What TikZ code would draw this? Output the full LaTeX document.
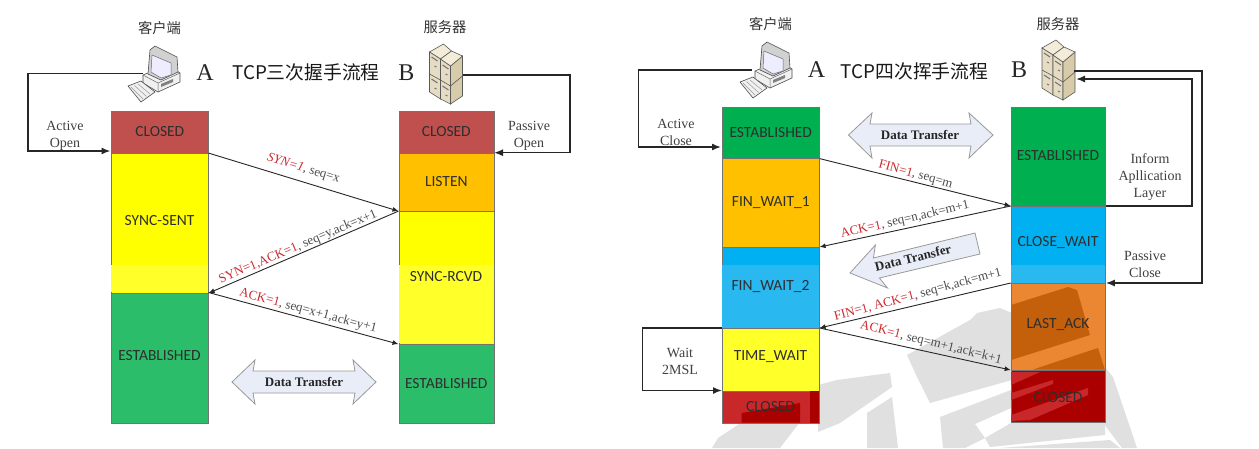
\documentclass[tikz,border=0pt]{standalone}
\usepackage{fontspec}
\setmainfont{Liberation Serif}
\newfontfamily\cjk{Noto Sans CJK SC}
\newfontfamily\cali{Carlito}
\usetikzlibrary{arrows.meta}
\definecolor{cRed}{HTML}{BF504D}
\definecolor{cYel}{HTML}{FFFF00}
\definecolor{cYelL}{HTML}{FFFF2A}
\definecolor{cOrg}{HTML}{FFC000}
\definecolor{cGrn}{HTML}{2CBD6B}
\definecolor{cGrnD}{HTML}{00AF50}
\definecolor{cBlu}{HTML}{00B0F0}
\definecolor{cBluL}{HTML}{29B8F0}
\definecolor{cLast}{HTML}{EB8633}
\definecolor{cLastD}{HTML}{C4600C}
\definecolor{cDark}{HTML}{AA0000}
\definecolor{cRedL}{HTML}{C9282A}
\definecolor{cArrow}{HTML}{E8EDF7}
\definecolor{cMsg}{HTML}{CC2A2E}
\definecolor{cWm}{HTML}{E0E0E0}
\definecolor{cSrvA}{HTML}{F3ECD9}
\definecolor{cSrvB}{HTML}{E6DCC3}
\definecolor{cSrvC}{HTML}{D8CBA9}
\tikzset{
 x=1pt,y=-1pt,
 st/.style={draw=black!55,line width=.6pt,anchor=north west,inner sep=0pt,minimum width=#1},
 st/.default=97pt,
 lbl/.style={font=\cali\fontsize{15.5}{16}\selectfont,text=black!82,inner sep=0pt},
 loopline/.style={line width=1.5pt,black!85,-{Latex[length=9pt,width=7pt]}},
 msg/.style={line width=.9pt,black!85,-{Latex[length=6pt,width=5pt]}},
 notetxt/.style={font=\fontsize{14}{17}\selectfont,align=center,text=black!75,inner sep=0pt},
 mtxt/.style={font=\fontsize{13}{14}\selectfont,text=black!70,inner sep=0pt},
 captxt/.style={font=\cjk\fontsize{14.3}{16}\selectfont,text=black!80,inner sep=0pt},
 ttl/.style={font=\cjk\fontsize{18.8}{20}\selectfont,text=black!90,inner sep=0pt},
 bigl/.style={font=\fontsize{24}{26}\selectfont,text=black!85,inner sep=0pt},
 fat/.style={draw=black!40,fill=cArrow,line width=.8pt},
 ftxt/.style={font=\bfseries\fontsize{13}{14}\selectfont,text=black!85,inner sep=0pt},
 pcb/.style={draw=black!70,line width=.6pt,fill=black!10},
 srv/.style={draw=black!65,line width=.6pt,fill=#1},
}
% computer icon; origin = junction of keyboard and tower
\newcommand{\pcicon}[2]{%
 \begin{scope}[shift={(#1,#2)}]
  \filldraw[pcb,fill=black!6] (-10,6) -- (14,-4) -- (27,4) -- (27,13) -- (5,23) -- (-10,14) -- cycle;
  \draw[black!60,line width=.5pt] (-10,6) -- (5,14) -- (27,4) (5,14) -- (5,23);
  \fill[black!50] (8,15) -- (20,10) -- (20,13) -- (8,18) -- cycle;
  \filldraw[pcb,fill=black!18] (-3,-19) -- (2,-23) -- (24,-12) -- (25,3) -- (8,11) -- (-5,5) -- cycle;
  \filldraw[draw=black!60,line width=.5pt,fill=blue!7] (-1,-14) -- (18,-6) -- (18,6) -- (8,9) -- (-2,3) -- cycle;
  \filldraw[pcb,fill=black!6] (-25,17) -- (-12,12) -- (2,23) -- (-12,33) -- cycle;
  \foreach \k in {0,1,2}{\draw[black!40,line width=.5pt] (-22+3.5*\k,18-1.5*\k) -- (-10+3.5*\k,30-2.5*\k);}
 \end{scope}}
% server icon; origin = centre
\newcommand{\srvicon}[2]{%
 \begin{scope}[shift={(#1,#2)}]
  \filldraw[srv=cSrvA] (-16,-22) -- (-2,-30) -- (6,-23) -- (-5,-15) -- cycle;
  \filldraw[srv=cSrvB] (-16,-22) -- (-5,-15) -- (-5,25) -- (-16,18) -- cycle;
  \filldraw[srv=cSrvB] (-5,-15) -- (5,-8) -- (5,30) -- (-5,25) -- cycle;
  \filldraw[srv=cSrvC] (5,-8) -- (17,-18) -- (17,22) -- (5,30) -- cycle;
  \filldraw[srv=cSrvA] (-5,-15) -- (6,-23) -- (17,-18) -- (5,-8) -- cycle;
  \draw[black!65,line width=.6pt] (-16,0) -- (-5,6) -- (5,12) -- (17,2);
  \foreach \a/\b in {-14/-17,-14/5,-3/-9,-3/12}{\draw[black!55,line width=1pt] (\a,\b) -- (\a+6,\b+4) (\a+3,\b+9) -- (\a+5,\b+10);}
 \end{scope}}
\begin{document}
\begin{tikzpicture}
\useasboundingbox (0,0) rectangle (1259,448);
\fill[white] (0,0) rectangle (1259,448);
% watermark on paper
\fill[cWm] (907,355) -- (970,320) -- (977,313) -- (1000,308) -- (1012,313) -- (1012,380) -- (930,403) -- (917,377) -- cycle;
\fill[cWm] (940,417) -- (1011,390) -- (1011,408) -- (975,424) -- (985,438) -- (965,448) -- (943,448) -- cycle;
\fill[cWm] (985,438) -- (1011,423) -- (1105,423) -- (1105,435) -- (990,447) -- cycle;
\fill[cWm] (1000,448) -- (1110,440) -- (1120,448) -- cycle;
\fill[cWm] (1104,366) -- (1113,377) -- (1137,448) -- (1122,448) -- (1104,424) -- cycle;
\fill[cWm] (712,448) -- (718,438) -- (742,422) -- (800,422) -- (780,448) -- cycle;
\fill[cWm] (818,385) -- (837,380) -- (890,373) -- (892,387) -- (840,423) -- (818,432) -- cycle;
\fill[cWm] (867,413) -- (892,397) -- (898,448) -- (867,448) -- cycle;

% LEFT
\node[st,minimum height=42pt,fill=cRed] (a1) at (111,110.5) {};
\node[st,minimum height=140pt,fill=cYel] (a2) at (111,152.5) {};
\node[st,minimum height=130pt,fill=cGrn] (a3) at (111,292.5) {};
\fill[cYelL] (111.4,265) rectangle (207.6,292);
\node[st=95pt,minimum height=42pt,fill=cRed] (b1) at (398.5,110.5) {};
\node[st=95pt,minimum height=58pt,fill=cOrg] (b2) at (398.5,152.5) {};
\node[st=95pt,minimum height=133pt,fill=cYel] (b3) at (398.5,210.5) {};
\node[st=95pt,minimum height=79pt,fill=cGrn] (b4) at (398.5,343.5) {};
\fill[cYelL] (398.9,265) rectangle (493.1,343);
\node[lbl] (a1l) at (a1) {CLOSED};
\node[lbl] (a2l) at (159.5,221) {SYNC-SENT};
\node[lbl] (a3l) at (159.5,356) {ESTABLISHED};
\node[lbl] (b1l) at (b1) {CLOSED};
\node[lbl] (b2l) at (b2) {LISTEN};
\node[lbl] (b3l) at (446,277) {SYNC-RCVD};
\node[lbl] (b4l) at (b4) {ESTABLISHED};
\node[captxt] (ca) at (159.5,28) {客户端};
\node[captxt] (sa) at (445,27) {服务器};
\node[bigl] (la) at (205,73) {A};
\node[bigl] (lb) at (406.5,73) {B};
\node[ttl] (t1) at (306,72) {TCP三次握手流程};
\coordinate (pc1) at (143,73.5);
\coordinate (sv1) at (460,75);
\coordinate (a1in) at (110.5,151);
\coordinate (b1in) at (494,152.7);
\node[notetxt] (n1) at (65,135.5) {Active\\Open};
\node[notetxt] (n2) at (529,135.5) {Passive\\Open};
\draw[loopline] (pc1) -- (28,73.5) -- (28,151) -- (a1in);
\draw[loopline] (sv1) -- (570,75) -- (570,152.7) -- (b1in);
\pcicon{153}{69}
\srvicon{445.5}{74}
\draw[msg] (a1.south east) -- (b2.south west);
\draw[msg] (b2.south west) -- (a2.south east);
\draw[msg] (a3.north east) -- (b3.south west);
\node[mtxt,rotate=-17] (m1) at (303.5,169) {\textcolor{cMsg}{\textit{SYN=1}}, seq=x};
\node[mtxt,rotate=23] (m2) at (298,247) {\textcolor{cMsg}{SYN=1,ACK=1}, seq=y,ack=x+1};
\node[mtxt,rotate=-15] (m3) at (308,311) {\textcolor{cMsg}{ACK=1}, seq=x+1,ack=y+1};
\draw[fat] (232,382) -- (255,360) -- (253,371) -- (355,371) -- (353,360) -- (376,382) -- (353,404) -- (355,393) -- (253,393) -- (255,404) -- cycle;
\node[ftxt] (f1) at (304,382) {Data Transfer};

% RIGHT
\node[st,minimum height=51pt,fill=cGrnD] (c1) at (722,107) {};
\node[st,minimum height=89pt,fill=cOrg] (c2) at (722,158) {};
\node[st,minimum height=81pt,fill=cBlu] (c3) at (722,247) {};
\node[st,minimum height=63pt,fill=cYelL] (c4) at (722,328) {};
\node[st,minimum height=32.5pt,fill=cRedL] (c5) at (722,390.5) {};
\fill[cBluL] (722.4,265) rectangle (818.6,327.6);
\node[st=94.5pt,minimum height=99pt,fill=cGrnD] (d1) at (1010.7,107) {};
\node[st=94.5pt,minimum height=77pt,fill=cBlu] (d2) at (1010.7,206) {};
\node[st=94.5pt,minimum height=87pt,fill=cLast] (d3) at (1010.7,283) {};
\node[st=94.5pt,minimum height=52pt,fill=cDark] (d4) at (1010.7,370) {};
\fill[cBluL] (1011.1,265) rectangle (1104.8,282.6);
% watermark on boxes
\fill[cLastD] (1011.1,305) -- (1068,287) -- (1077,290) -- (1090,335) -- (1011.1,360) -- cycle;
\fill[cLastD] (1033,369.5) -- (1098,348) -- (1104.8,369.5) -- cycle;
\fill[cRedL] (1011.1,372) -- (1040,372) -- (1011.1,385) -- cycle;
\fill[cRedL] (1011.1,393) -- (1053,380) -- (1053,384) -- (1011.1,400) -- cycle;
\fill[cRedL] (1011.1,415) -- (1088,388) -- (1088,395) -- (1030,420) -- (1011.1,421) -- cycle;
\fill[cDark] (741.7,422.6) -- (741.7,413) -- (800,403) -- (800,422.6) -- cycle;
\fill[cDark] (810,391) -- (818.6,391) -- (818.6,422.6) -- (810,422.6) -- cycle;
\node[lbl] (c1l) at (c1) {ESTABLISHED};
\node[lbl] (c2l) at (c2) {FIN\_WAIT\_1};
\node[lbl] (c3l) at (770.5,287) {FIN\_WAIT\_2};
\node[lbl] (c4l) at (770.5,357) {TIME\_WAIT};
\node[lbl] (c5l) at (770.5,407) {CLOSED};
\node[lbl] (d1l) at (1058,156) {ESTABLISHED};
\node[lbl] (d2l) at (1058,243) {CLOSE\_WAIT};
\node[lbl] (d3l) at (1058,325) {LAST\_ACK};
\node[lbl] (d4l) at (1058,398) {CLOSED};
\node[captxt] (cb) at (770.5,24) {客户端};
\node[captxt] (sb) at (1058,24) {服务器};
\node[bigl] (lc) at (816.5,70) {A};
\node[bigl] (ld) at (1019,70) {B};
\node[ttl] (t2) at (914.5,71) {TCP四次挥手流程};
\coordinate (pc2) at (752,70);
\coordinate (sv2) at (1074,71);
\coordinate (sv3) at (1076,79);
\coordinate (c1in) at (721,147);
\node[notetxt] (n3) at (676,132) {Active\\Close};
\node[notetxt] (n4) at (1145,264.5) {Passive\\Close};
\node[notetxt] (n5) at (1150,177) {Inform\\Apllication\\Layer};
\node[notetxt] (n6) at (680,361.5) {Wait\\2MSL};
\draw[loopline] (pc2) -- (638.5,70) -- (638.5,147) -- (c1in);
\pcicon{765}{65}
\srvicon{1058}{70}
\draw[loopline] (d2.north east) -- (1192,206) -- (1192,79) -- (sv3);
\draw[loopline] (sv2) -- (1202,71) -- (1202,283) -- (d3.north east);
\draw[loopline] (c4.north west) -- (642.5,328) -- (642.5,390.5) -- (c5.north west);
\draw[msg] (c1.south east) -- (d2.north west);
\draw[msg] (d2.north west) -- (c3.north east);
\draw[msg] (d3.north west) -- (c4.north east);
\draw[msg] (c4.north east) -- (d4.north west);
\node[mtxt,rotate=-15] (m4) at (915.5,175) {\textcolor{cMsg}{FIN=1}, seq=m};
\node[mtxt,rotate=13] (m5) at (905,220) {\textcolor{cMsg}{ACK=1}, seq=n,ack=m+1};
\node[mtxt,rotate=15] (m6) at (918,295) {\textcolor{cMsg}{FIN=1, ACK=1}, seq=k,ack=m+1};
\node[mtxt,rotate=-14] (m7) at (931,343) {\textcolor{cMsg}{ACK=1}, seq=m+1,ack=k+1};
\draw[fat] (848.5,135) -- (872,113) -- (870,124) -- (971,124) -- (969,113) -- (993,135) -- (969,158) -- (971,146) -- (870,146) -- (872,158) -- cycle;
\node[ftxt] (f2) at (920,135) {Data Transfer};
\draw[fat] (850,273) -- (875.4,245) -- (873.4,258) -- (975,233) -- (980,254) -- (879.4,278) -- (887.5,288) -- cycle;
\node[ftxt,rotate=14] (f3) at (913,258) {Data Transfer};
\end{tikzpicture}
\end{document}
